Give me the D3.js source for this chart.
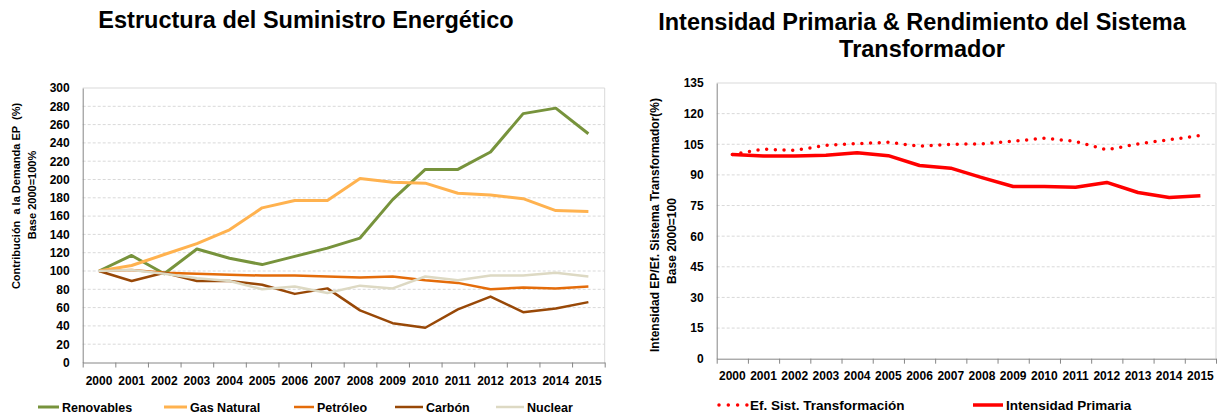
<!DOCTYPE html>
<html>
<head>
<meta charset="utf-8">
<script src="https://cdn.jsdelivr.net/npm/d3@7"></script>
<style>
  body { margin: 0; background: #fff; }
  svg { font-family: "Liberation Sans", Arial, sans-serif; }
  .tick text { font-weight: bold; fill: #000; }
  .grid line { stroke: #d9d9d9; stroke-dasharray: 3,2; }
</style>
</head>
<body>
<svg id="chart" width="1220" height="414"></svg>
<script>
// data
var years = ["2000","2001","2002","2003","2004","2005","2006","2007","2008","2009","2010","2011","2012","2013","2014","2015"];

var renovables = [100, 117, 97, 124, 114, 107, 116, 125, 136, 178, 211, 211, 230, 272, 278, 250];
var gasNatural = [100, 106, 118, 130, 145, 169, 177, 177, 201, 197, 196, 185, 183, 179, 166, 165];
var petroleo   = [100, 101, 98, 97, 96, 95, 95, 94, 93, 94, 90, 87, 80, 82, 81, 83];
var carbon     = [100, 89, 98, 89, 89, 85, 75, 81, 57, 43, 38, 58, 72, 55, 59, 66];
var nuclear    = [100, 101, 97, 92, 89, 80, 83, 76, 84, 81, 94, 90, 95, 95, 98, 94];

var efSistTransf  = [100, 102.6, 102, 104.5, 105.3, 106, 104, 105, 105.2, 106.5, 108, 106.4, 102.3, 105.2, 107.2, 109.3];
var intensidadPri = [100, 99.3, 99.2, 99.6, 100.8, 99.4, 94.6, 93.3, 88.7, 84.3, 84.3, 84, 86.3, 81.4, 78.9, 79.8];

var leftTicks = d3.range(0, 301, 20);
var rightTicks = d3.range(0, 136, 15);

var svg = d3.select("#chart");

function makeChart(cfg) {
    var g = svg.append("g");

    var x = d3.scaleBand().domain(years).range([cfg.x0, cfg.x1]);
    var xEdge = d3.scaleLinear().domain([0, years.length]).range([cfg.x0, cfg.x1]);
    var y = d3.scaleLinear().domain([0, cfg.yMax]).range([cfg.y0, cfg.y1]);

    // gridlines
    g.append("g").attr("class", "grid")
        .selectAll("line")
        .data(cfg.ticks.filter(function(d) { return d > 0 && d < cfg.yMax; }))
        .enter().append("line")
        .attr("x1", cfg.x0).attr("x2", cfg.x1)
        .attr("y1", function(d) { return y(d); })
        .attr("y2", function(d) { return y(d); });

    // frame top/right
    g.append("path")
        .attr("d", "M" + cfg.x0 + "," + y(cfg.yMax) + "H" + cfg.x1 + "V" + cfg.y0)
        .attr("fill", "none").attr("stroke", "#d9d9d9");

    // y axis
    var yAxis = g.append("g")
        .attr("transform", "translate(" + cfg.x0 + ",0)")
        .call(d3.axisLeft(y).tickValues(cfg.ticks).tickSize(0).tickPadding(13));
    yAxis.select(".domain").attr("stroke", "#868686");
    yAxis.selectAll("text").style("font-size", "12px");

    // x axis tick marks at boundaries
    var xTicks = g.append("g")
        .attr("transform", "translate(0," + cfg.y0 + ")")
        .call(d3.axisBottom(xEdge).tickValues(d3.range(0, years.length + 1)).tickFormat("").tickSize(5).tickSizeOuter(0));
    xTicks.select(".domain").attr("stroke", "#868686");
    xTicks.selectAll(".tick line").attr("stroke", "#868686");

    var xLabels = g.append("g")
        .attr("transform", "translate(0," + cfg.y0 + ")")
        .call(d3.axisBottom(x).tickSize(0).tickPadding(cfg.labelPad));
    xLabels.select(".domain").remove();
    xLabels.selectAll("text").style("font-size", "12px");

    // lines
    var line = d3.line()
        .x(function(d, i) { return x(years[i]) + x.bandwidth() / 2; })
        .y(function(d) { return y(d); });

    cfg.series.forEach(function(s) {
        g.append("path")
            .datum(s.values)
            .attr("fill", "none")
            .attr("stroke", s.color)
            .attr("stroke-width", s.width)
            .attr("stroke-linecap", s.dotted ? "round" : "butt")
            .attr("stroke-linejoin", "round")
            .attr("stroke-dasharray", s.dotted ? "0,8.7" : null)
            .attr("d", line);
    });

    // title
    cfg.title.forEach(function(t) {
        g.append("text")
            .attr("x", t.x).attr("y", t.y)
            .attr("text-anchor", "middle")
            .style("font-size", cfg.titleSize).style("font-weight", "bold")
            .text(t.text);
    });

    // y axis title
    cfg.yTitle.forEach(function(t) {
        g.append("text")
            .attr("transform", "translate(" + t.x + "," + t.y + ") rotate(-90)")
            .attr("text-anchor", "middle")
            .attr("dy", "0.35em")
            .style("font-size", cfg.yTitleSize).style("font-weight", "bold")
            .style("white-space", "pre")
            .text(t.text);
    });

    // legend
    cfg.series.forEach(function(s) {
        g.append("line")
            .attr("x1", s.lx).attr("x2", s.lx + s.llen)
            .attr("y1", cfg.legendY).attr("y2", cfg.legendY)
            .attr("stroke", s.color)
            .attr("stroke-width", s.width)
            .attr("stroke-linecap", s.dotted ? "round" : "butt")
            .attr("stroke-dasharray", s.dotted ? "0,9.3" : null);
        g.append("text")
            .attr("x", s.lx + s.llen + 3).attr("y", cfg.legendY)
            .attr("dy", "0.36em")
            .style("font-size", cfg.legendSize).style("font-weight", "bold")
            .text(s.name);
    });

    return g;
}

makeChart({
    x0: 82.7, x1: 604.7, y0: 362.5, y1: 88, yMax: 300,
    ticks: leftTicks, labelPad: 14,
    title: [{text: "Estructura del Suministro Energético", x: 306, y: 27.5}],
    titleSize: "23.5px",
    yTitle: [{text: "Contribución  a la Demanda EP  (%)", x: 16.5, y: 196},
             {text: "Base 2000=100%", x: 32, y: 195}],
    yTitleSize: "11px",
    legendY: 407, legendSize: "12.5px",
    series: [
        {name: "Renovables", values: renovables, color: "#77933c", width: 3, lx: 38, llen: 21},
        {name: "Gas Natural", values: gasNatural, color: "#ffb24f", width: 3, lx: 164, llen: 23},
        {name: "Petróleo", values: petroleo, color: "#e46c0a", width: 2.5, lx: 294, llen: 20},
        {name: "Carbón", values: carbon, color: "#984807", width: 2.5, lx: 395, llen: 28},
        {name: "Nuclear", values: nuclear, color: "#ddd9c3", width: 2.5, lx: 496, llen: 28}
    ]
});

makeChart({
    x0: 716.7, x1: 1216, y0: 358.7, y1: 83, yMax: 135,
    ticks: rightTicks, labelPad: 13,
    title: [{text: "Intensidad Primaria & Rendimiento del Sistema", x: 922, y: 30},
            {text: "Transformador", x: 922, y: 57}],
    titleSize: "23.5px",
    yTitle: [{text: "Intensidad EP/Ef. Sistema Transformador(%)", x: 655, y: 225},
             {text: "Base 2000=100", x: 672, y: 241}],
    yTitleSize: "12px",
    legendY: 405, legendSize: "13.5px",
    series: [
        {name: "Ef. Sist. Transformación", values: efSistTransf, color: "#ff0000", width: 3.5, dotted: true, lx: 719, llen: 28},
        {name: "Intensidad Primaria", values: intensidadPri, color: "#ff0000", width: 3.5, lx: 973, llen: 30}
    ]
});
</script>
</body>
</html>
